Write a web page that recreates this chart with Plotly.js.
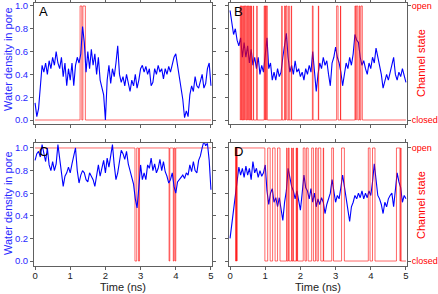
<!DOCTYPE html>
<html>
<head>
<meta charset="utf-8">
<script src="https://cdn.plot.ly/plotly-3.0.1.min.js"></script>
<style>html,body{margin:0;padding:0;background:#fff;}#chart{width:438px;height:294px;}</style>
</head>
<body>
<div id="chart"></div>
<script>
// Time sampling of the water-density traces (ns)
const timeStart = 0;
const timeStep = 0.05;
const timeTicks = [0, 1, 2, 3, 4, 5];
const densityTicks = [0, 0.2, 0.4, 0.6, 0.8, 1.0];
const stateTicks = [0, 1];
const stateLabels = ["closed", "open"];
const panelLabels = ["A", "B", "C", "D"];

// Water density in pore
const waterA = [0.15,0.03,0.10,0.30,0.48,0.42,0.50,0.40,0.52,0.45,0.55,0.48,0.60,0.50,0.45,0.55,0.38,0.50,0.30,0.45,
  0.35,0.50,0.30,0.48,0.55,0.50,0.58,0.82,0.68,0.42,0.60,0.45,0.62,0.48,0.58,0.40,0.55,0.35,0.28,0.22,
  0.00,0.35,0.48,0.32,0.45,0.38,0.50,0.65,0.40,0.33,0.38,0.30,0.40,0.32,0.25,0.35,0.30,0.40,0.28,0.35,
  0.45,0.48,0.42,0.47,0.40,0.45,0.30,0.33,0.45,0.40,0.48,0.42,0.45,0.36,0.45,0.40,0.47,0.42,0.50,0.55,
  0.58,0.48,0.38,0.30,0.18,0.02,0.08,0.03,0.22,0.30,0.25,0.38,0.30,0.28,0.35,0.40,0.28,0.32,0.45,0.50,0.30];
const waterB = [0.96,0.85,0.75,0.80,0.70,0.65,0.72,0.55,0.68,0.55,0.65,0.50,0.62,0.48,0.55,0.45,0.55,0.40,0.48,0.42,
  0.55,0.72,0.45,0.50,0.35,0.42,0.35,0.45,0.38,0.42,0.55,0.65,0.76,0.55,0.42,0.48,0.40,0.52,0.42,0.45,
  0.38,0.42,0.35,0.45,0.40,0.48,0.42,0.60,0.45,0.25,0.40,0.50,0.45,0.55,0.48,0.52,0.40,0.30,0.50,0.55,
  0.64,0.55,0.50,0.42,0.30,0.40,0.50,0.45,0.55,0.48,0.58,0.75,0.70,0.68,0.55,0.48,0.52,0.45,0.40,0.50,
  0.45,0.55,0.50,0.63,0.55,0.48,0.40,0.28,0.35,0.40,0.35,0.42,0.48,0.55,0.40,0.35,0.42,0.38,0.45,0.40,0.33];
const waterC = [0.89,0.95,0.97,0.92,1.03,0.95,0.88,1.00,0.85,0.80,0.88,0.80,0.86,1.03,0.92,0.77,0.66,0.75,0.78,0.83,
  0.78,0.86,0.93,1.00,0.80,0.69,0.76,0.80,0.78,0.72,0.70,0.78,0.75,0.72,0.66,0.76,0.85,0.75,0.82,0.89,
  0.78,0.91,0.83,0.95,1.03,0.85,0.72,0.78,0.88,0.98,0.95,0.90,0.97,0.86,0.80,0.75,0.68,0.55,0.47,0.65,
  0.85,0.72,0.78,0.72,0.85,0.82,0.91,0.80,0.86,0.78,0.82,0.90,0.80,0.88,0.79,0.75,0.69,0.72,0.78,0.66,
  0.60,0.70,0.72,0.74,0.76,0.73,0.78,0.76,0.85,0.79,0.88,0.80,0.78,0.89,0.93,1.00,1.06,1.02,1.04,0.89,0.63];
const waterD = [0.20,0.32,0.48,0.60,0.70,0.83,0.76,0.82,0.74,0.84,0.76,0.82,0.72,0.88,0.78,0.82,0.74,0.80,0.75,0.78,
  0.85,0.62,0.50,0.60,0.64,0.52,0.56,0.48,0.56,0.45,0.36,0.52,0.62,0.82,0.74,0.66,0.62,0.55,0.62,0.52,
  0.45,0.60,0.76,0.65,0.62,0.55,0.64,0.52,0.60,0.48,0.55,0.50,0.56,0.52,0.42,0.50,0.55,0.60,0.72,0.60,
  0.52,0.58,0.55,0.65,0.76,0.66,0.55,0.42,0.35,0.48,0.52,0.58,0.55,0.60,0.56,0.62,0.55,0.60,0.56,0.62,
  0.58,0.70,0.86,0.72,0.58,0.55,0.50,0.42,0.52,0.48,0.55,0.58,0.60,0.48,0.65,0.78,0.70,0.65,0.52,0.58,0.55];

// Channel state (0 = closed, 1 = open): switching times (ns) and states
const stateA_t = [0, 1.28, 1.33, 1.36, 1.43, 5.0];
const stateA_v = [0, 1, 0, 1, 0, 0];
const stateB_t = [0.28,0.29,0.31,0.32,0.34,0.36,0.38,0.40,0.42,0.43,0.46,0.48,0.50,0.52,0.54,0.56,0.58,0.60,0.61,
  0.66,0.67,0.76,0.77,0.97,0.99,1.00,1.02,1.03,1.06,
  1.47,1.48,1.55,1.57,1.59,1.62,1.67,1.68,1.74,1.75,
  2.34,2.36,2.51,2.52,3.03,3.07,3.14,3.145,
  3.55,3.57,3.59,3.63,3.67,3.69,3.72,3.76,5.0];
const stateB_v = [0,1,0,1,0,1,0,1,0,1,0,1,0,1,0,1,0,1,0,
  1,0,1,0,1,0,1,0,1,0,
  1,0,1,0,1,0,1,0,1,0,
  1,0,1,0,1,0,1,0,
  1,0,1,0,1,0,1,0,0];
const stateC_t = [0, 2.84, 2.89, 2.94, 2.97, 3.81, 3.83, 3.93, 3.95, 3.98, 4.00, 5.0];
const stateC_v = [1, 0, 1, 0, 1, 0, 1, 0, 1, 0, 1, 1];
const stateD_t = [0.15,0.16,0.17,0.18,0.19,0.20,
  0.99,1.07,1.14,1.21,1.28,1.35,1.42,
  1.61,1.62,1.66,1.68,1.75,1.76,1.79,1.80,1.88,1.89,1.91,1.92,
  2.08,2.13,2.17,2.22,2.32,2.37,2.43,2.47,2.51,2.58,2.65,2.66,2.89,2.94,3.17,3.25,
  3.93,3.98,4.05,4.12,4.73,4.83,4.85,4.86,5.0];
const stateD_v = [0,1,0,1,0,1,
  0,1,0,1,0,1,0,
  1,0,1,0,1,0,1,0,1,0,1,0,
  1,0,1,0,1,0,1,0,1,0,1,0,1,0,1,0,
  1,0,1,0,1,0,1,0,0];

const FONT = "Liberation Sans, Arial, sans-serif";
const BLUE = "rgb(0,0,255)";
const TXTBLUE = "rgb(40,40,255)";
const RED = "rgb(255,0,0)";
const FRAME = "#606060";

function waterTrace(vals, xa, ya) {
  return {type: "scatter", mode: "lines", x0: timeStart, dx: timeStep, y: vals,
    xaxis: xa, yaxis: ya, line: {color: BLUE, width: 1.1}, showlegend: false, hoverinfo: "skip"};
}
function stateTrace(t, v, xa, ya) {
  return {type: "scatter", mode: "lines", x: t, y: v, xaxis: xa, yaxis: ya,
    line: {color: RED, width: 0.6, shape: "hv"}, showlegend: false, hoverinfo: "skip"};
}

const data = [
  stateTrace(stateA_t, stateA_v, "x", "y"),
  waterTrace(waterA, "x", "y"),
  waterTrace(waterB, "x2", "y2"),
  stateTrace(stateB_t, stateB_v, "x2", "y5"),
  stateTrace(stateC_t, stateC_v, "x3", "y3"),
  waterTrace(waterC, "x3", "y3"),
  waterTrace(waterD, "x4", "y4"),
  stateTrace(stateD_t, stateD_v, "x4", "y6")
];

const W = 438, H = 294;
const leftDom = [34 / W, 212 / W];
const rightDom = [229 / W, 407 / W];
const topDom = [1 - 124 / H, 1 - 3 / H];
const botDom = [1 - 266 / H, 1 - 143 / H];
const topRange = [-0.035, 1.026];
const botRange = [-0.044, 1.044];
const xRange = [-0.03, 5.03];

function xax(dom, anchor, labels) {
  return {domain: dom, anchor: anchor, range: xRange, tickvals: timeTicks, showticklabels: labels,
    ticks: "outside", ticklen: 3, tickcolor: FRAME, showline: true, linecolor: FRAME, linewidth: 1,
    mirror: "ticks", showgrid: false, zeroline: false, ticklabelstandoff: -2,
    tickfont: {family: FONT, size: 9.5, color: "#222"}};
}
function yax(dom, anchor, range, labels) {
  return {domain: dom, anchor: anchor, range: range, tickvals: densityTicks, tickformat: ".1f",
    showticklabels: labels, ticks: "outside", ticklen: 3, tickcolor: FRAME, showline: true,
    linecolor: FRAME, linewidth: 1, mirror: labels ? "ticks" : true, showgrid: false, zeroline: false,
    tickfont: {family: FONT, size: 9.5, color: TXTBLUE}};
}
function stateAx(over, anchor, range) {
  return {overlaying: over, anchor: anchor, side: "right", range: range, tickvals: stateTicks,
    ticktext: stateLabels, ticks: "outside", ticklen: 3, tickcolor: FRAME, showline: false,
    showgrid: false, zeroline: false, ticklabelstandoff: -1,
    tickfont: {family: FONT, size: 9, color: RED}};
}

function title(text, x, y, color, angle) {
  return {text: text, xref: "paper", yref: "paper", x: x / W, y: 1 - y / H, xanchor: "center",
    yanchor: "middle", showarrow: false, textangle: angle, font: {family: FONT, size: 11, color: color}};
}
function letter(text, xa, ya) {
  return {text: text, xref: xa + " domain", yref: ya + " domain", x: 0.015, y: 1.01, xanchor: "left",
    yanchor: "top", showarrow: false, font: {family: FONT, size: 13, color: "#000"}};
}

const layout = {
  width: W, height: H, margin: {l: 0, r: 0, t: 0, b: 0},
  paper_bgcolor: "#fff", plot_bgcolor: "#fff", showlegend: false,
  xaxis: xax(leftDom, "y", false),
  yaxis: yax(topDom, "x", topRange, true),
  xaxis2: xax(rightDom, "y2", false),
  yaxis2: yax(topDom, "x2", topRange, false),
  xaxis3: xax(leftDom, "y3", true),
  yaxis3: yax(botDom, "x3", botRange, true),
  xaxis4: xax(rightDom, "y4", true),
  yaxis4: yax(botDom, "x4", botRange, false),
  yaxis5: stateAx("y2", "x2", topRange),
  yaxis6: stateAx("y4", "x4", botRange),
  annotations: [
    title("Water density in pore", 8, 59, TXTBLUE, -90),
    title("Water density in pore", 8, 203, TXTBLUE, -90),
    title("Channel state", 421, 63, RED, -90),
    title("Channel state", 421, 205, RED, -90),
    title("Time (ns)", 123, 287, "#222", 0),
    title("Time (ns)", 318, 287, "#222", 0),
    letter(panelLabels[0], "x", "y"),
    letter(panelLabels[1], "x2", "y2"),
    letter(panelLabels[2], "x3", "y3"),
    letter(panelLabels[3], "x4", "y4")
  ]
};

Plotly.newPlot("chart", data, layout, {staticPlot: true, displayModeBar: false});
</script>
</body>
</html>
